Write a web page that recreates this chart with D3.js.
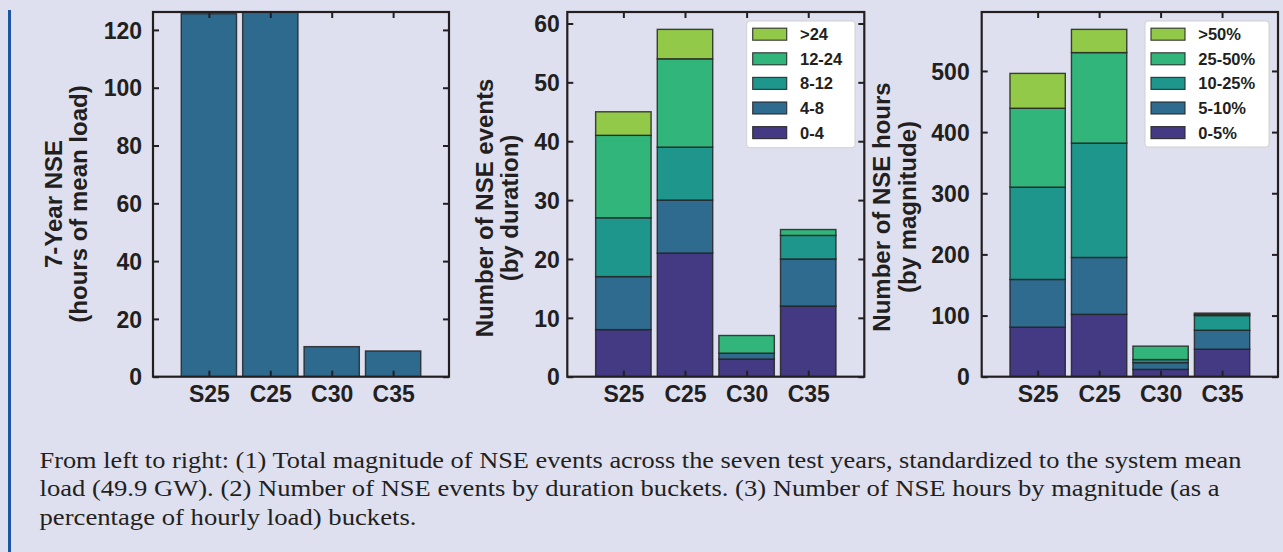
<!DOCTYPE html>
<html>
<head>
<meta charset="utf-8">
<script src="https://cdn.jsdelivr.net/npm/d3@7/dist/d3.min.js"></script>
<style>
  html, body { margin: 0; padding: 0; background: #dee0ef; }
  svg { display: block; }
  text { font-family: "Liberation Sans", Arial, sans-serif; fill: #231f20; }
  .caption { font-family: "Liberation Serif", "Times New Roman", serif; }
</style>
</head>
<body>
<svg id="fig" width="1283" height="552"></svg>
<script>
// ---- data ----
const scenarios = ["S25", "C25", "C30", "C35"];

// 7-year NSE, in hours of mean load
const totalNSE = [125.6, 127.5, 10.4, 8.9];

// event counts per duration bucket (hours), one row per bucket, one column per scenario
const durationBuckets = ["0-4", "4-8", "8-12", "12-24", ">24"];
const eventsByDuration = [
  [8, 21, 3, 12],
  [9, 9, 1, 8],
  [10, 9, 0, 4],
  [14, 15, 3, 1],
  [4, 5, 0, 0]
];

// NSE hours per magnitude bucket (share of hourly load)
const magnitudeBuckets = ["0-5%", "5-10%", "10-25%", "25-50%", ">50%"];
const hoursByMagnitude = [
  [81, 102, 12, 45],
  [78, 93, 11, 31],
  [151, 187, 5, 24],
  [129, 148, 22, 2],
  [57, 38, 0, 2]
];

const totalTicks = [0, 20, 40, 60, 80, 100, 120];
const eventTicks = [0, 10, 20, 30, 40, 50, 60];
const hourTicks = [0, 100, 200, 300, 400, 500];

const bucketColors = ["#443983", "#2e6b8e", "#1f968b", "#31b57b", "#93c948"];
const singleColor = "#2e6a8e";
const ink = "#231f20";

// ---- layout ----
const svg = d3.select("#fig");
svg.append("rect").attr("width", 1283).attr("height", 552).attr("fill", "#dee0ef");
// side rule
svg.append("rect").attr("x", 8).attr("y", 10).attr("width", 3).attr("height", 542).attr("fill", "#1d55a0");

const plotTop = 12, plotBottom = 376.7;

const panels = [
  { left: 153, right: 449, ymax: 126.2, ticks: totalTicks, labelGap: 11,
    ylabel: ["7-Year NSE", "(hours of mean load)"], labelX: [62, 87], labelY: 204 },
  { left: 567.3, right: 864.3, ymax: 61.95, ticks: eventTicks, labelGap: 7.5,
    ylabel: ["Number of NSE events", "(by duration)"], labelX: [493, 518], labelY: 208,
    legend: { x: 746.7, y: 21, w: 108.3, h: 126.7, names: durationBuckets } },
  { left: 981.7, right: 1278, ymax: 596.4, ticks: hourTicks, labelGap: 12,
    ylabel: ["Number of NSE hours", "(by magnitude)"], labelX: [890, 916], labelY: 207,
    legend: { x: 1145, y: 21, w: 124, h: 126, names: magnitudeBuckets } }
];

const defs = svg.append("defs");

panels.forEach((p, pi) => {
  const x = d3.scaleLinear().domain([-0.91, 3.91]).range([p.left, p.right]);
  const y = d3.scaleLinear().domain([0, p.ymax]).range([plotBottom, plotTop]);
  const g = svg.append("g");

  defs.append("clipPath").attr("id", "clip" + pi)
    .append("rect").attr("x", p.left).attr("y", plotTop)
    .attr("width", p.right - p.left).attr("height", plotBottom - plotTop);

  const bars = g.append("g").attr("clip-path", `url(#clip${pi})`);
  const bw = 0.9;

  if (pi === 0) {
    bars.selectAll("rect").data(totalNSE).join("rect")
      .attr("x", (d, i) => x(i - bw / 2))
      .attr("width", x(bw) - x(0))
      .attr("y", d => y(d))
      .attr("height", d => y(0) - y(d))
      .attr("fill", singleColor)
      .attr("stroke", "rgba(35,35,35,0.85)")
      .attr("stroke-width", 1.4);
  } else {
    const rows = pi === 1 ? eventsByDuration : hoursByMagnitude;
    const table = scenarios.map((s, j) => {
      const o = { scenario: s, idx: j };
      rows.forEach((r, k) => { o["b" + k] = r[j]; });
      return o;
    });
    const keys = rows.map((r, k) => "b" + k);
    const stacked = d3.stack().keys(keys)(table);
    stacked.forEach((layer, k) => {
      bars.append("g").selectAll("rect").data(layer.filter(d => d[1] - d[0] > 0)).join("rect")
        .attr("x", d => x(d.data.idx - bw / 2))
        .attr("width", x(bw) - x(0))
        .attr("y", d => y(d[1]))
        .attr("height", d => y(d[0]) - y(d[1]))
        .attr("fill", bucketColors[k])
        .attr("stroke", "rgba(35,35,35,0.85)")
        .attr("stroke-width", 1.4);
    });
  }

  // axes with inward ticks on all four sides
  const tickLen = 6;
  const axisLeft = d3.axisLeft(y).tickValues(p.ticks).tickSizeInner(-tickLen).tickSizeOuter(0).tickPadding(p.labelGap);
  const axisRight = d3.axisRight(y).tickValues(p.ticks).tickSizeInner(-tickLen).tickSizeOuter(0).tickFormat("");
  const axisBottom = d3.axisBottom(x).tickValues([0, 1, 2, 3]).tickSizeInner(-tickLen).tickSizeOuter(0)
    .tickFormat(i => scenarios[i]).tickPadding(8.5);
  const axisTop = d3.axisTop(x).tickValues([0, 1, 2, 3]).tickSizeInner(-tickLen).tickSizeOuter(0).tickFormat("");

  const styleAxis = sel => {
    sel.select(".domain").remove();
    sel.selectAll(".tick line").attr("stroke", ink).attr("stroke-width", 2);
    sel.selectAll(".tick text").attr("fill", ink).style("font-size", "23px").style("font-weight", "bold")
      .style("font-family", '"Liberation Sans", Arial, sans-serif');
  };

  g.append("g").attr("transform", `translate(${p.left},0)`).call(axisLeft).call(styleAxis)
    .selectAll(".tick text").attr("dy", "0.36em");
  g.append("g").attr("transform", `translate(${p.right},0)`).call(axisRight).call(styleAxis);
  g.append("g").attr("transform", `translate(0,${plotBottom})`).call(axisBottom).call(styleAxis)
    .selectAll(".tick text").attr("dy", "0.71em");
  g.append("g").attr("transform", `translate(0,${plotTop})`).call(axisTop).call(styleAxis);

  // frame
  g.append("rect").attr("x", p.left).attr("y", plotTop)
    .attr("width", p.right - p.left).attr("height", plotBottom - plotTop)
    .attr("fill", "none").attr("stroke", ink).attr("stroke-width", 2.2);

  // y label, two lines
  p.ylabel.forEach((t, li) => {
    g.append("text")
      .attr("transform", `translate(${p.labelX[li]},${p.labelY}) rotate(-90)`)
      .attr("text-anchor", "middle")
      .style("font-size", "24px").style("font-weight", "bold")
      .text(t);
  });

  // legend
  if (p.legend) {
    const L = p.legend;
    const lg = g.append("g");
    lg.append("rect").attr("x", L.x).attr("y", L.y).attr("width", L.w).attr("height", L.h)
      .attr("rx", 3).attr("fill", "#ffffff").attr("stroke", "#d0d0d0").attr("stroke-width", 1);
    // top entry is the last bucket
    const order = d3.range(L.names.length).reverse();
    order.forEach((k, row) => {
      const cy = L.y + 13.2 + row * 24.6;
      lg.append("rect").attr("x", L.x + 6).attr("y", cy - 6).attr("width", 34).attr("height", 12)
        .attr("fill", bucketColors[k]).attr("stroke", "rgba(35,35,35,0.85)").attr("stroke-width", 1.2);
      lg.append("text").attr("x", L.x + 53.3).attr("y", cy).attr("dy", "0.36em")
        .style("font-size", "16.5px").style("font-weight", "bold")
        .text(L.names[k]);
    });
  }
});

// caption
const captionLines = [
  { text: "From left to right: (1) Total magnitude of NSE events across the seven test years, standardized to the system mean", y: 467.5, w: 1202 },
  { text: "load (49.9 GW). (2) Number of NSE events by duration buckets. (3) Number of NSE hours by magnitude (as a", y: 496, w: 1180 },
  { text: "percentage of hourly load) buckets.", y: 524.5, w: 377 }
];
svg.append("g").selectAll("text").data(captionLines).join("text")
  .attr("class", "caption")
  .attr("x", 39.5)
  .attr("y", d => d.y)
  .attr("textLength", d => d.w)
  .attr("lengthAdjust", "spacingAndGlyphs")
  .style("font-size", "23.5px")
  .text(d => d.text);
</script>
</body>
</html>
